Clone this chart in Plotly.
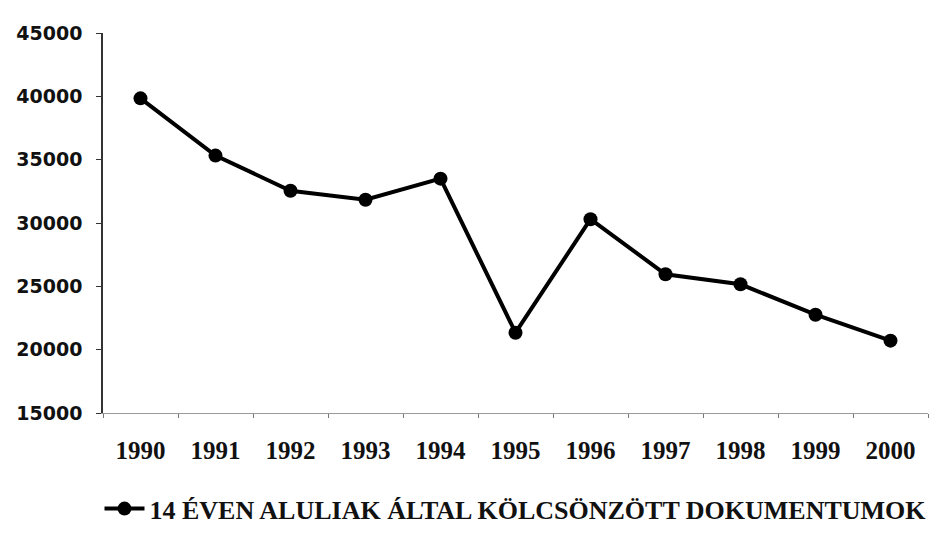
import plotly.graph_objects as go

years = ["1990", "1991", "1992", "1993", "1994", "1995", "1996", "1997", "1998", "1999", "2000"]
values = [39840, 35320, 32550, 31840, 33500, 21340, 30300, 25950, 25160, 22760, 20710]
series_name = "14 ÉVEN ALULIAK ÁLTAL KÖLCSÖNZÖTT DOKUMENTUMOK"
y_ticks = [15000, 20000, 25000, 30000, 35000, 40000, 45000]
y_tick_labels = ["15000", "20000", "25000", "30000", "35000", "40000", "45000"]

fig = go.Figure()
fig.add_trace(go.Scatter(
    x=years, y=values, name=series_name, mode="lines+markers",
    line=dict(color="#000000", width=4),
    marker=dict(color="#000000", size=14, symbol="circle"),
))

fig.update_layout(
    width=940, height=526,
    margin=dict(l=95, r=20, t=25, b=121, autoexpand=False),
    paper_bgcolor="white", plot_bgcolor="white",
    showlegend=True,
    legend=dict(orientation="h", x=0.5, xanchor="center", y=-0.19, yanchor="top",
                font=dict(family="Liberation Serif", size=26, color="#111111", weight="bold"),
                itemwidth=40),
    xaxis=dict(
        type="category", range=[-0.5, 10.5], automargin=False,
        showline=True, linecolor="#9a9a9a", linewidth=1,
        ticks="outside", ticklen=4, tickcolor="#777777", tickson="boundaries",
        showgrid=False, zeroline=False,
        tickfont=dict(family="Liberation Serif", size=25, color="#111111", weight="bold"),
        ticklabelstandoff=15,
    ),
    yaxis=dict(
        range=[15000, 45000], tickvals=y_ticks, ticktext=y_tick_labels, automargin=False,
        showline=True, linecolor="#333333", linewidth=1.5,
        ticks="outside", ticklen=5, tickcolor="#333333",
        showgrid=False, zeroline=False,
        tickfont=dict(family="DejaVu Sans", size=19, color="#111111", weight="bold"),
        ticklabelstandoff=10,
    ),
)

fig.write_html("out.html")
